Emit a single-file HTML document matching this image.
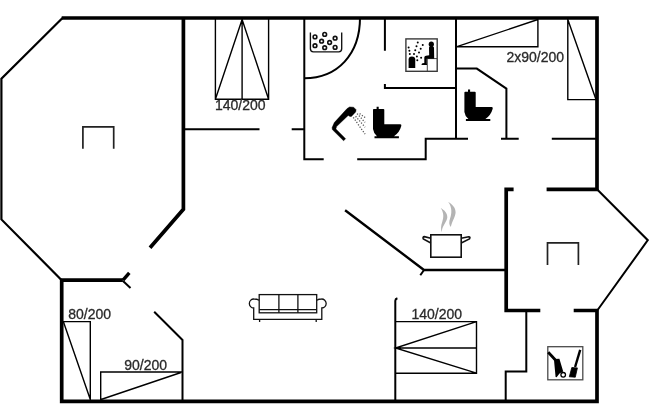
<!DOCTYPE html>
<html><head><meta charset="utf-8"><style>
html,body{margin:0;padding:0;background:#fff;width:650px;height:420px;overflow:hidden}
svg{display:block}
text{font-family:"Liberation Sans",sans-serif;font-size:14px;fill:#2a2a2a;stroke:#2a2a2a;stroke-width:0.3}
</style></head><body>
<svg width="650" height="420" viewBox="0 0 650 420">
<g fill="none" stroke="#000" stroke-linejoin="miter">
<!-- thick walls -->
<g stroke-width="3.7" stroke-linecap="butt">
<path d="M61.7,18H597V189.3H546.6"/>
<path d="M573.7,310.5H597V401.3H61.7V280.2H122.9"/>
<path d="M183.4,18V209.3L150,247.7"/>
<path d="M513.6,189.3H506.2V310.5H540.3"/>
</g>
<!-- thin walls -->
<g stroke-width="2">
<path d="M62.5,18L1.4,78.7V219.4L61.7,280.2" stroke-width="2.2"/>
<path d="M597,189.3L647.8,240.2L597.6,310"/>
<path d="M183.3,129.2H259.5M291.7,129.2H304.3"/>
<path d="M304.3,17.8V159.2H323.7"/>
<path d="M357.2,159.2H425.7V138.7H468"/>
<path d="M456,17.8V138.7"/>
<path d="M456,68.6H476.8L506.4,88.6V138.8"/>
<path d="M501,138.8H518.7M551.8,138.8H597"/>
<path d="M384.9,17.8V50.8M384.9,84V88H456"/>
<path d="M345.1,210.2L424,270H506" stroke-width="2.4"/>
<path d="M424,270L420.3,275.3"/>
<path d="M154.2,311.7L182.5,340V401.3"/>
<path d="M526.3,312V371.4H505.7V401.3"/>
<path d="M395.3,401.3V300.8Q395.3,298.9 397.4,298.2"/>
<path d="M123,280.2L129.3,272.9" stroke-width="3.4"/>
<path d="M123,281L130.5,288"/>
</g>
<!-- beds -->
<g stroke-width="1.4">
<path d="M215.4,17.8V99.3H268.6V17.8M242.1,17.8V99.3M215.4,99.3L242.1,19.5L268.6,99.3"/>
<path d="M456.3,46.7H537.9V17.8M457,46.7L537.9,19.5"/>
<path d="M567.8,17.8V99.6H597M567.8,19.5L596,99.6"/>
<path d="M61.7,321.6H90.3V401M63.5,322L90.3,399.5"/>
<path d="M100.7,401V372H182.5M101,399.5L181,372.5"/>
<path d="M395.5,321.6H476.5V373.2H395.5M395.5,348H476.5M476.5,321.6L395.5,348L476.5,373.2"/>
</g>
<!-- fixtures -->
<path d="M82.9,148.8V126.9H113.7V148.8" stroke-width="1.7" stroke="#222"/>
<path d="M547.5,265V242.9H578.4V265" stroke-width="1.7" stroke="#222"/>
<!-- quarter circle shower -->
<path d="M360,17.8C360,54 337.7,78.2 304.3,78.2" stroke-width="2"/>
</g>
<!-- whirlpool -->
<g fill="none" stroke="#111" stroke-width="1.35">
<path d="M310.4,32.5V48.8Q310.4,51.8 313.4,51.8H338.7Q341.7,51.8 341.7,48.8V32.5"/>
<circle cx="315" cy="36.9" r="1.85" stroke-width="1.6"/><circle cx="324.7" cy="34.4" r="1.85" stroke-width="1.6"/><circle cx="335.1" cy="38.2" r="1.85" stroke-width="1.6"/>
<circle cx="321.6" cy="41.2" r="1.85" stroke-width="1.6"/><circle cx="329.6" cy="42.5" r="1.85" stroke-width="1.6"/><circle cx="315" cy="45.7" r="1.85" stroke-width="1.6"/>
<circle cx="324.7" cy="47.7" r="1.85" stroke-width="1.6"/><circle cx="335.1" cy="47.4" r="1.85" stroke-width="1.6"/>
</g>
<!-- sauna -->
<g>
<rect x="405.9" y="38.9" width="31.3" height="32.4" fill="none" stroke="#3a3a3a" stroke-width="1.4"/>
<path d="M408.6,68V59.6Q408.6,56.6 411.9,56.6Q415.25,56.6 415.25,59.6V68Z" fill="#000"/>
<path d="M427.3,71V58.6H437" fill="none" stroke="#333" stroke-width="0.9"/>
<circle cx="431.3" cy="44.2" r="2.6" fill="#000"/>
<path d="M429,47.6Q429.5,46 431.3,45.5Q433.4,46 434,47.6L434.2,58.8H426.8V63.3L427.1,65H421.6Q421.2,63.8 422.5,63.3L424.3,62.9V57.6Q424.4,56 426,55.8L429.2,55.2Z" fill="#000"/>
<g fill="#000">
<circle cx="417.75" cy="42.4" r="1"/><circle cx="422.75" cy="44.9" r="1"/><circle cx="416.5" cy="46.2" r="1"/>
<circle cx="408.6" cy="47.4" r="1"/><circle cx="420.7" cy="48.7" r="1"/><circle cx="409.4" cy="50.75" r="1"/>
<circle cx="415.25" cy="50.3" r="1"/><circle cx="419" cy="52.4" r="1"/><circle cx="409.8" cy="54.1" r="1"/>
<circle cx="414" cy="54.1" r="1"/><circle cx="416.9" cy="56.6" r="1"/><circle cx="421.1" cy="57.8" r="1"/>
<circle cx="417.3" cy="60.3" r="1"/>
</g>
</g>
<!-- shower -->
<path d="M332.1,127.6L334.3,122.6L347.1,108.6L349.6,106.9L353.6,107.2L356.1,109.7L355.7,111.9L351.4,116.5L350,116.5L348.2,115.4L336.6,126.6L335.9,128.9L345.6,138.7L343.6,140.8L332.3,129.6Z" fill="#000" stroke="#000" stroke-width="0.4" stroke-linejoin="round"/>
<g stroke="#555" stroke-width="1.3" stroke-dasharray="1.2 1.6" fill="none">
<path d="M353.3,117.4L365.1,134.2"/><path d="M355.6,116.3L365.1,127.2"/><path d="M357.1,113.6L365.1,122.4"/><path d="M359.6,113.6L365.5,117.8"/>
</g>
<!-- toilets -->
<defs>
<path id="wc" d="M0,3Q0,2.1 0.9,2.1H3.6V0H5.7V2.1H10.4Q11.3,2.1 11.3,3V17.5H27.4Q28.7,17.6 28.3,19.1Q26.5,25.8 20.7,29.6H4.2Q0.4,26.2 0,22.3Z M1.5,29.5H25.9V31.4H1.5Z"/>
</defs>
<use href="#wc" x="464.4" y="89.6" fill="#000"/>
<use href="#wc" x="373" y="106.8" fill="#000"/>
<!-- pot -->
<g fill="none" stroke="#111" stroke-width="1.6">
<rect x="430.8" y="234.8" width="30.4" height="22.4"/>
<path d="M430.8,238.2L424.4,236.6Q422.4,236.8 423.3,239L430.8,243"/>
<path d="M461.2,238.2L468.6,236.7Q470.8,236.9 469.4,239L461.2,243"/>
</g>
<g fill="#b4b4b4">
<path d="M440.7,208.1C444,210 447.5,213 447.3,217.5C447,221 443.5,225 442.2,229L441.6,232.3C440.8,229 440.8,226 442.2,222C443.6,218 444.2,213 440.7,208.1Z"/>
<path d="M448.2,202C452,204 455.8,207.5 455.6,212.5C455.4,216.5 452,221.5 450.8,227C449,225 448.8,222 450.2,218C451.6,214 452.5,207.5 448.2,202Z"/>
</g>
<!-- sofa -->
<g fill="none" stroke="#111" stroke-width="1.3">
<rect x="259.2" y="294.6" width="57.5" height="18.2"/>
<path d="M278.9,294.6V312.8M297.9,294.6V312.8M259.2,309.6H316.7"/>
<path d="M259.2,300.2Q257,299 254,299A4.5,4.5 0 0 0 253.7,308V319.3H321.8V308A4.5,4.5 0 0 0 321.5,299Q318.9,299 316.7,300.2"/>
<path d="M259.6,319.3V322M316.2,319.3V322"/>
</g>
<!-- cleaning -->
<g>
<rect x="547.8" y="346.7" width="35" height="33.1" fill="none" stroke="#4a4a4a" stroke-width="1.3"/>
<path d="M548.2,352.2L555.2,359.8" stroke="#000" stroke-width="2.8" fill="none"/>
<path d="M553.9,358.9L559.4,358.7L563.2,371.6L559.5,373.5L556.6,377.3L555.6,377.1Z" fill="#000"/>
<circle cx="563.2" cy="374.8" r="2.3" fill="#fff" stroke="#000" stroke-width="1.3"/>
<path d="M580.2,349.8L575.1,367" stroke="#000" stroke-width="2.4" fill="none"/>
<path d="M571.8,367.5L577.4,367.9L575.3,377.2L569.3,376.8Z" fill="#000" stroke="#000" stroke-width="0.8" stroke-linejoin="round"/>
</g>
<!-- labels -->
<g style="filter:grayscale(1)">
<text x="215" y="109.8">140/200</text>
<text x="506.5" y="61.7">2x90/200</text>
<text x="68.3" y="318.6">80/200</text>
<text x="124.2" y="369.5">90/200</text>
<text x="411.5" y="319.3">140/200</text>
</g>
</svg>
</body></html>
